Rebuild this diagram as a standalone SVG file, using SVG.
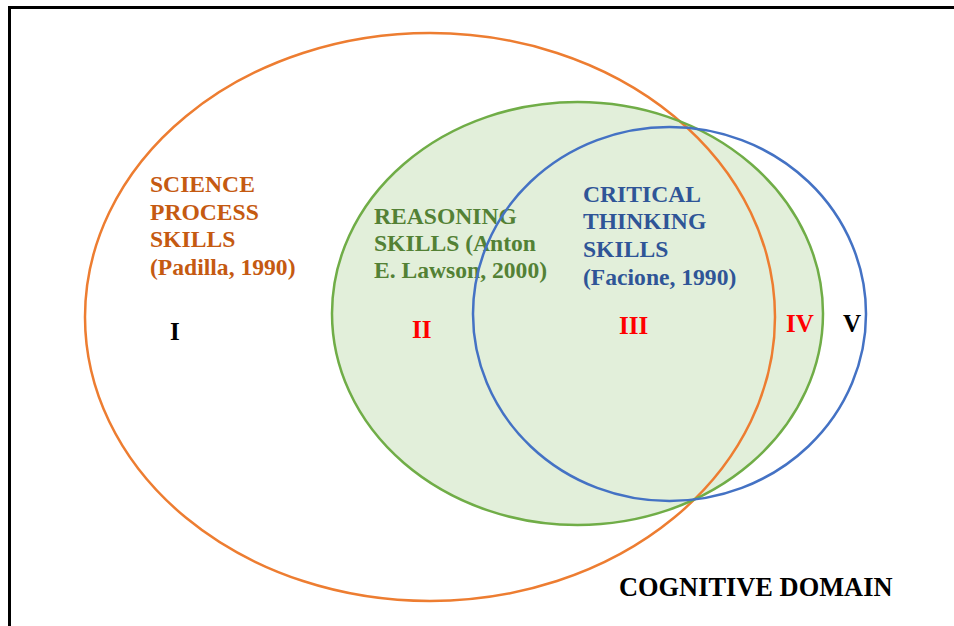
<svg xmlns="http://www.w3.org/2000/svg" width="954" height="626" viewBox="0 0 954 626">
  <style>
    .lbl { font-family: "Liberation Serif", "Times New Roman", serif; font-weight: bold; font-size: 23.6px; }
    .num { font-family: "Liberation Serif", "Times New Roman", serif; font-weight: bold; font-size: 25px; }
    .ring { fill: none; stroke-width: 2.5; }
  </style>
  <rect width="954" height="626" fill="#ffffff"/>
  <!-- outer frame (cognitive domain) -->
  <rect x="9.5" y="7.5" width="960" height="640" fill="none" stroke="#000000" stroke-width="3"/>

  <!-- shaded reasoning region -->
  <ellipse cx="577.5" cy="313.5" rx="245.5" ry="211.5" fill="#E2EFDA"/>

  <g id="science-process">
    <ellipse class="ring" cx="430" cy="317" rx="345" ry="284" stroke="#ED7D31"/>
    <text class="lbl" fill="#C55A11">
      <tspan x="150" y="192">SCIENCE</tspan>
      <tspan x="150" y="220">PROCESS</tspan>
      <tspan x="150" y="247">SKILLS</tspan>
      <tspan x="150" y="275">(Padilla, 1990)</tspan>
    </text>
  </g>

  <g id="reasoning">
    <ellipse class="ring" cx="577.5" cy="313.5" rx="245.5" ry="211.5" stroke="#70AD47"/>
    <text class="lbl" fill="#538135">
      <tspan x="374" y="224">REASONING</tspan>
      <tspan x="374" y="251">SKILLS (Anton</tspan>
      <tspan x="374" y="278">E. Lawson, 2000)</tspan>
    </text>
  </g>

  <g id="critical-thinking">
    <ellipse class="ring" cx="669.5" cy="314" rx="196.5" ry="187" stroke="#4472C4"/>
    <text class="lbl" fill="#2F5597">
      <tspan x="583" y="202">CRITICAL</tspan>
      <tspan x="583" y="229">THINKING</tspan>
      <tspan x="583" y="257">SKILLS</tspan>
      <tspan x="583" y="285">(Facione, 1990)</tspan>
    </text>
  </g>

  <g id="regions">
    <text class="num" x="170" y="340" fill="#000000">I</text>
    <text class="num" x="412" y="338" fill="#FF0000">II</text>
    <text class="num" x="619" y="334" fill="#FF0000">III</text>
    <text class="num" x="786" y="332" fill="#FF0000">IV</text>
    <text class="num" x="843" y="332" fill="#000000">V</text>
  </g>

  <text id="domain" class="lbl" x="619" y="596" font-size="26.4px" style="font-size:26.4px" fill="#000000">COGNITIVE DOMAIN</text>
</svg>
